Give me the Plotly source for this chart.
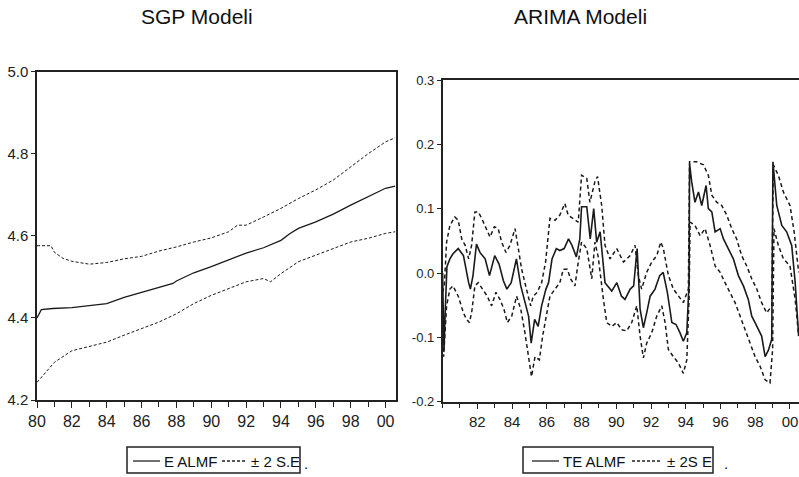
import plotly.graph_objects as go

# ---------------- Data: SGP Modeli (left panel) ----------------
sgp_t_mid = [1980.0, 1980.25, 1980.9, 1982.0, 1983.0, 1984.0, 1985.0, 1986.0, 1987.0, 1987.8,
             1988.0, 1989.0, 1990.0, 1991.0, 1992.0, 1993.0, 1994.0, 1994.5, 1995.0, 1996.0,
             1997.0, 1998.0, 1999.0, 2000.0, 2000.55]
sgp_mid = [4.400, 4.420, 4.423, 4.425, 4.430, 4.435, 4.450, 4.462, 4.474, 4.484,
           4.490, 4.510, 4.525, 4.542, 4.558, 4.571, 4.589, 4.605, 4.618, 4.634,
           4.653, 4.675, 4.695, 4.716, 4.721]

sgp_t_up = [1980.0, 1980.8, 1981.0, 1981.5, 1982.0, 1983.0, 1984.0, 1985.0, 1986.0, 1987.0,
            1988.0, 1989.0, 1990.0, 1991.0, 1991.5, 1992.0, 1993.0, 1994.0, 1995.0, 1996.0,
            1997.0, 1998.0, 1999.0, 2000.0, 2000.55]
sgp_up = [4.576, 4.576, 4.560, 4.545, 4.538, 4.531, 4.535, 4.544, 4.550, 4.563,
          4.573, 4.585, 4.595, 4.610, 4.626, 4.626, 4.646, 4.667, 4.691, 4.712,
          4.736, 4.768, 4.800, 4.829, 4.839]

sgp_t_lo = [1980.0, 1980.5, 1981.0, 1982.0, 1983.0, 1984.0, 1985.0, 1986.0, 1987.0, 1988.0,
            1989.0, 1990.0, 1991.0, 1992.0, 1993.0, 1993.4, 1994.0, 1995.0, 1996.0, 1997.0,
            1998.0, 1999.0, 2000.0, 2000.55]
sgp_lo = [4.243, 4.268, 4.292, 4.320, 4.330, 4.341, 4.358, 4.374, 4.390, 4.410,
          4.435, 4.455, 4.472, 4.488, 4.496, 4.488, 4.508, 4.537, 4.553, 4.569,
          4.585, 4.594, 4.606, 4.610]

# ---------------- Data: ARIMA Modeli (right panel) ----------------
arima_t_fc = [1980.0, 1980.08, 1980.15, 1980.25, 1980.42, 1980.6, 1980.9, 1981.2, 1981.5, 1981.6,
              1981.75, 1981.95, 1982.15, 1982.45, 1982.7, 1983.0, 1983.25, 1983.5, 1983.7, 1983.95,
              1984.25, 1984.5, 1984.75, 1984.95, 1985.1, 1985.3, 1985.5, 1985.7, 1985.95, 1986.1,
              1986.3, 1986.55, 1986.75, 1987.0, 1987.25, 1987.45, 1987.7, 1987.9, 1988.0, 1988.3,
              1988.5, 1988.7, 1988.87, 1989.07, 1989.35, 1989.55, 1989.74, 1990.03, 1990.3, 1990.5,
              1990.8, 1991.0, 1991.2, 1991.37, 1991.56, 1991.75, 1991.95, 1992.23, 1992.5, 1992.7,
              1992.94, 1993.2, 1993.44, 1993.67, 1993.86, 1994.06, 1994.19, 1994.22, 1994.34, 1994.53,
              1994.73, 1994.92, 1995.17, 1995.3, 1995.5, 1995.69, 1995.98, 1996.17, 1996.46, 1996.74,
              1997.03, 1997.32, 1997.6, 1997.8, 1997.99, 1998.18, 1998.37, 1998.57, 1998.76, 1998.95,
              1999.02, 1999.24, 1999.53, 1999.81, 2000.1, 2000.3, 2000.5]
arima_fc = [0.000, -0.120, -0.060, 0.010, 0.022, 0.030, 0.038, 0.027, -0.015, -0.025,
            -0.004, 0.045, 0.032, 0.022, -0.004, 0.027, 0.014, -0.012, -0.025, -0.015,
            0.022, -0.020, -0.046, -0.067, -0.109, -0.072, -0.083, -0.051, -0.025, -0.015,
            0.022, 0.038, 0.035, 0.038, 0.053, 0.043, 0.025, 0.053, 0.103, 0.103,
            0.053, 0.100, 0.048, 0.064, -0.015, -0.022, -0.028, -0.015, -0.036, -0.041,
            -0.025, -0.020, 0.038, -0.056, -0.085, -0.062, -0.036, -0.025, -0.004, 0.001,
            -0.030, -0.077, -0.080, -0.093, -0.106, -0.093, -0.015, 0.170, 0.142, 0.110,
            0.126, 0.105, 0.136, 0.100, 0.095, 0.064, 0.069, 0.053, 0.038, 0.022,
            -0.004, -0.020, -0.041, -0.067, -0.077, -0.088, -0.098, -0.130, -0.120, -0.103,
            0.173, 0.105, 0.074, 0.064, 0.043, -0.015, -0.098]

arima_t_up = [1980.0, 1980.1, 1980.23, 1980.42, 1980.7, 1980.9, 1981.1, 1981.3, 1981.5, 1981.67,
              1981.86, 1982.05, 1982.25, 1982.5, 1982.73, 1982.98, 1983.2, 1983.4, 1983.65, 1983.88,
              1984.17, 1984.36, 1984.55, 1984.8, 1985.07, 1985.22, 1985.45, 1985.7, 1985.93, 1986.18,
              1986.47, 1986.75, 1987.04, 1987.23, 1987.52, 1987.81, 1988.0, 1988.3, 1988.48, 1988.77,
              1988.92, 1989.16, 1989.35, 1989.64, 1990.03, 1990.41, 1990.8, 1991.08, 1991.27, 1991.46,
              1991.75, 1992.04, 1992.33, 1992.56, 1992.71, 1993.0, 1993.29, 1993.58, 1993.86, 1994.15,
              1994.22, 1994.63, 1995.02, 1995.3, 1995.5, 1995.78, 1996.07, 1996.36, 1996.65, 1996.93,
              1997.22, 1997.51, 1997.8, 1998.09, 1998.37, 1998.66, 1998.95, 1999.04, 1999.33, 1999.62,
              2000.0, 2000.24, 2000.5]
arima_up = [-0.030, -0.020, 0.048, 0.074, 0.087, 0.082, 0.053, 0.043, 0.022, 0.043,
            0.095, 0.095, 0.085, 0.069, 0.056, 0.072, 0.069, 0.048, 0.032, 0.043,
            0.069, 0.038, 0.006, -0.022, -0.051, -0.036, -0.030, -0.015, 0.017, 0.085,
            0.082, 0.090, 0.108, 0.090, 0.085, 0.079, 0.152, 0.147, 0.110, 0.142,
            0.150, 0.105, 0.043, 0.022, 0.038, 0.017, 0.027, 0.043, -0.004, -0.025,
            0.001, 0.017, 0.027, 0.048, 0.038, -0.004, -0.025, -0.036, -0.046, -0.025,
            0.173, 0.173, 0.168, 0.152, 0.121, 0.110, 0.105, 0.090, 0.069, 0.053,
            0.027, 0.011, -0.009, -0.025, -0.046, -0.062, -0.051, 0.168, 0.152, 0.126,
            0.105, 0.064, 0.001]

arima_t_lo = [1980.0, 1980.06, 1980.23, 1980.42, 1980.6, 1980.9, 1981.2, 1981.38, 1981.54, 1981.67,
              1981.86, 1982.05, 1982.3, 1982.57, 1982.82, 1983.07, 1983.3, 1983.53, 1983.73, 1983.98,
              1984.26, 1984.5, 1984.74, 1984.93, 1985.12, 1985.32, 1985.57, 1985.76, 1985.99, 1986.18,
              1986.47, 1986.75, 1986.95, 1987.18, 1987.37, 1987.62, 1987.81, 1988.0, 1988.3, 1988.59,
              1988.77, 1988.96, 1989.26, 1989.45, 1989.74, 1990.03, 1990.3, 1990.6, 1990.89, 1991.18,
              1991.37, 1991.56, 1991.75, 1992.04, 1992.33, 1992.62, 1992.81, 1993.0, 1993.29, 1993.58,
              1993.86, 1994.06, 1994.19, 1994.25, 1994.53, 1994.83, 1995.11, 1995.4, 1995.69, 1995.98,
              1996.26, 1996.55, 1996.84, 1997.13, 1997.42, 1997.7, 1997.99, 1998.28, 1998.57, 1998.85,
              1999.0, 1999.08, 1999.33, 1999.62, 2000.0, 2000.3, 2000.5]
arima_lo = [-0.050, -0.130, -0.051, -0.025, -0.020, -0.036, -0.062, -0.072, -0.077, -0.062,
            -0.020, -0.015, -0.025, -0.036, -0.051, -0.030, -0.041, -0.056, -0.077, -0.067,
            -0.036, -0.056, -0.093, -0.124, -0.161, -0.130, -0.135, -0.098, -0.062, -0.036,
            -0.025, -0.015, 0.006, 0.006, -0.009, -0.020, 0.017, 0.048, 0.038, -0.009,
            0.048, 0.025, -0.041, -0.077, -0.083, -0.077, -0.088, -0.090, -0.077, -0.051,
            -0.098, -0.132, -0.109, -0.093, -0.067, -0.051, -0.077, -0.119, -0.130, -0.140,
            -0.156, -0.135, -0.041, 0.079, 0.074, 0.058, 0.069, 0.043, 0.011, 0.001,
            -0.015, -0.030, -0.046, -0.067, -0.088, -0.109, -0.130, -0.145, -0.166, -0.171,
            -0.119, 0.069, 0.043, 0.022, 0.011, -0.041, -0.098]

# Tick labels
sgp_xtick_vals = list(range(1980, 2001, 2))
sgp_xtick_text = ["80", "82", "84", "86", "88", "90", "92", "94", "96", "98", "00"]
sgp_ytick_vals = [4.2, 4.4, 4.6, 4.8, 5.0]
sgp_ytick_text = ["4.2", "4.4", "4.6", "4.8", "5.0"]
arima_xtick_vals = list(range(1982, 2001, 2))
arima_xtick_text = ["82", "84", "86", "88", "90", "92", "94", "96", "98", "00"]
arima_ytick_vals = [-0.2, -0.1, 0.0, 0.1, 0.2, 0.3]
arima_ytick_text = ["-0.2", "-0.1", "0.0", "0.1", "0.2", "0.3"]

W, H = 799, 477
INK = "#1a1a1a"
FONT = "Liberation Sans, Arial, sans-serif"

def px(x):
    return x / W

def py(y):
    return 1 - y / H

fig = go.Figure()

# Left panel traces
fig.add_trace(go.Scatter(x=sgp_t_up, y=sgp_up, mode="lines", xaxis="x", yaxis="y",
                         line=dict(color=INK, width=1.0, dash="3px,2px"), showlegend=False))
fig.add_trace(go.Scatter(x=sgp_t_lo, y=sgp_lo, mode="lines", xaxis="x", yaxis="y",
                         line=dict(color=INK, width=1.0, dash="3px,2px"), showlegend=False))
fig.add_trace(go.Scatter(x=sgp_t_mid, y=sgp_mid, mode="lines", xaxis="x", yaxis="y",
                         line=dict(color=INK, width=1.3), showlegend=False))

# Right panel traces
fig.add_trace(go.Scatter(x=arima_t_up, y=arima_up, mode="lines", xaxis="x2", yaxis="y2",
                         line=dict(color=INK, width=1.5, dash="4px,3px"), showlegend=False))
fig.add_trace(go.Scatter(x=arima_t_lo, y=arima_lo, mode="lines", xaxis="x2", yaxis="y2",
                         line=dict(color=INK, width=1.5, dash="4px,3px"), showlegend=False))
fig.add_trace(go.Scatter(x=arima_t_fc, y=arima_fc, mode="lines", xaxis="x2", yaxis="y2",
                         line=dict(color=INK, width=1.6), showlegend=False))

axis_common = dict(showgrid=False, zeroline=False, showline=True, linecolor="#222",
                   linewidth=1.5, ticks="outside", tickcolor="#222", tickwidth=1.2,
                   mirror=True, fixedrange=True, automargin=False)

fig.update_layout(
    template="none",
    width=W, height=H,
    margin=dict(l=0, r=0, t=0, b=0, pad=0),
    paper_bgcolor="white", plot_bgcolor="white",
    font=dict(family=FONT, color="#222"),
    showlegend=False,
    xaxis=dict(axis_common, domain=[px(37), px(396)], range=[1980, 2000.6],
               tickvals=sgp_xtick_vals, ticktext=sgp_xtick_text, ticklen=6,
               tickfont=dict(size=16), anchor="y",
               minor=dict(dtick=1, tick0=1980, ticks="outside", ticklen=5, tickcolor="#222")),
    yaxis=dict(axis_common, domain=[py(400), py(71.7)], range=[4.2, 5.0],
               tickvals=sgp_ytick_vals, ticktext=sgp_ytick_text, ticklen=4,
               tickfont=dict(size=15), anchor="x"),
    xaxis2=dict(axis_common, domain=[px(442.6), 1.0], range=[1980, 2000.52],
                tickvals=arima_xtick_vals, ticktext=arima_xtick_text, ticklen=6,
                tickfont=dict(size=15), anchor="y2",
                minor=dict(dtick=1, tick0=1981, ticks="outside", ticklen=5, tickcolor="#222")),
    yaxis2=dict(axis_common, domain=[py(401.7), py(80)], range=[-0.2, 0.3],
                tickvals=arima_ytick_vals, ticktext=arima_ytick_text, ticklen=4,
                tickfont=dict(size=13), anchor="x2"),
)

# Titles
fig.add_annotation(text="SGP Modeli", x=px(197), y=py(17), xref="paper", yref="paper",
                   showarrow=False, font=dict(size=21, color="#111"), xanchor="center", yanchor="middle")
fig.add_annotation(text="ARIMA Modeli", x=px(580), y=py(17), xref="paper", yref="paper",
                   showarrow=False, font=dict(size=21, color="#111"), xanchor="center", yanchor="middle")

# Legend boxes (drawn manually to mirror the original framed legends)
shapes = []
def legend(x0, x1, solid, dashed, labels, dot_x):
    shapes.append(dict(type="rect", xref="paper", yref="paper", x0=px(x0), x1=px(x1),
                       y0=py(473), y1=py(447), line=dict(color="#222", width=1.5)))
    shapes.append(dict(type="line", xref="paper", yref="paper", x0=px(solid[0]), x1=px(solid[1]),
                       y0=py(461), y1=py(461), line=dict(color="#222", width=1.3)))
    shapes.append(dict(type="line", xref="paper", yref="paper", x0=px(dashed[0]), x1=px(dashed[1]),
                       y0=py(461), y1=py(461), line=dict(color="#222", width=1.3, dash="3px,2px")))
    for txt, xx in labels:
        fig.add_annotation(text=txt, x=px(xx), y=py(461), xref="paper", yref="paper",
                           showarrow=False, xanchor="left", yanchor="middle",
                           font=dict(size=15, color="#111"))
    fig.add_annotation(text=".", x=px(dot_x), y=py(463), xref="paper", yref="paper",
                       showarrow=False, xanchor="left", yanchor="middle",
                       font=dict(size=15, color="#111"))

legend(127, 300, (133, 160), (222, 245), [("E ALMF", 162), ("± 2 S.E", 249)], 302)
legend(523, 713, (532, 559), (632, 662), [("TE ALMF", 561), ("± 2S E", 665)], 722)
fig.update_layout(shapes=shapes)

fig.write_html("out.html")
